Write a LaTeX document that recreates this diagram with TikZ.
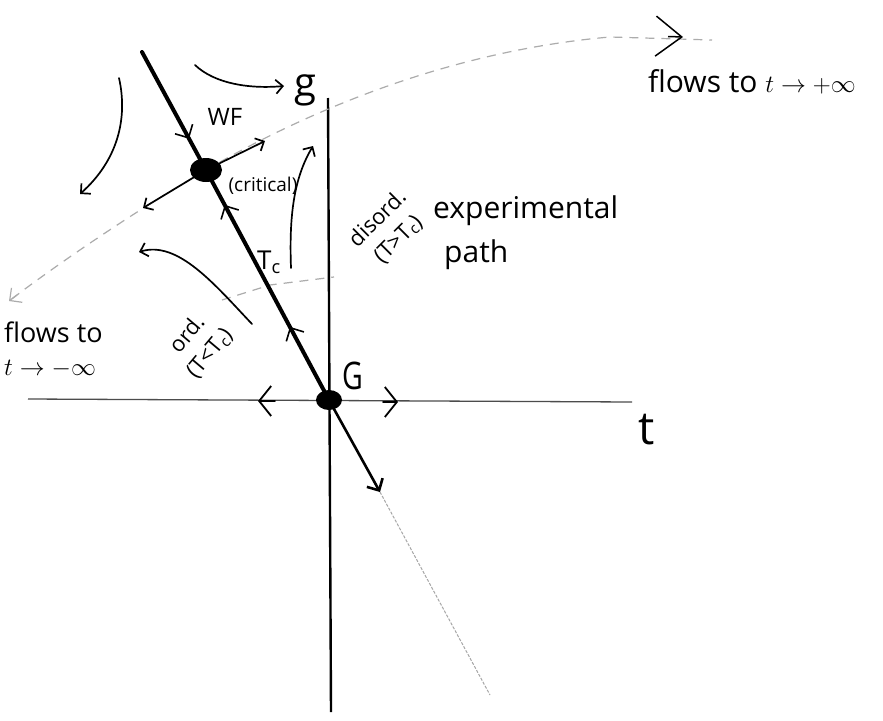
\documentclass[tikz,border=0pt]{standalone}
\usepackage{fontspec}
\setmainfont{Open Sans}
\usetikzlibrary{arrows.meta,decorations.markings,shapes.geometric,calc}
\begin{document}
\begin{tikzpicture}[x=1pt,y=-1pt,
  lab/.style={font=\fontsize{#1}{#1}\selectfont, inner sep=0pt},
  rotlab/.style={font=\fontsize{22}{29}\selectfont, inner sep=0pt, align=center},
  flow/.style={line width=1.7pt, line cap=round, -{Straight Barb[length=7pt,width=14pt]}},
  dashpath/.style={draw=gray!65, line width=1.2pt, dash pattern=on 9pt off 7pt},
  bigtip/.style={line width=1.8pt, line cap=round, -{Straight Barb[length=12pt,width=30pt]}},
  fpdot/.style={ellipse, inner sep=0pt}
]
\fill[white] (0,0) rectangle (883,720);
\useasboundingbox (0,0) rectangle (883,720);

% ---------- named points ----------
\node[fpdot, minimum width=32pt, minimum height=24pt] (WF) at (206,170) {};
\node[fpdot, minimum width=26pt, minimum height=20pt] (G) at (329,400) {};
\coordinate (gtop) at (328,98);
\coordinate (gbot) at (331,712);
\coordinate (tleft) at (28,399);
\coordinate (tright) at (632,402);
\coordinate (ctop) at (142,52);
\coordinate (cmid) at (380,492);
\coordinate (cend) at (490,695);
\coordinate (wfur) at (265,141);
\coordinate (wfdl) at (143,208);
\coordinate (mleft) at (9,301);
\coordinate (mleftpre) at (17,295);
\coordinate (mright) at (683,37);
\coordinate (mrtail) at (712,40);
\coordinate (mrpre) at (668,36.5);
\coordinate (exA) at (222,300);
\coordinate (Tc) at (270,285);
\coordinate (exB) at (334,277);
\coordinate (ta1) at (195,65);
\coordinate (ta2) at (284,86);
\coordinate (la1) at (119,78);
\coordinate (la2) at (80,194);
\coordinate (ba1) at (252,324);
\coordinate (ba2) at (139,252);
\coordinate (rc1) at (291,268);
\coordinate (rc2) at (313,146);
\coordinate (axl1) at (275,401);
\coordinate (axl2) at (258,401);
\coordinate (axr1) at (383,402);
\coordinate (axr2) at (398,402);

% ---------- axes ----------
\draw[line width=1.3pt, gray!60!black] (tleft) -- (tright);
\draw[line width=2.4pt] (gtop) -- (gbot);

% ---------- dashed flow lines ----------
\draw[dashpath] (WF.center) .. controls (140,208) and (60,262) .. (mleft);
\draw[gray!65, line width=1.2pt, -{Straight Barb[length=9pt,width=18pt]}] (mleftpre) -- (mleft);
\draw[dashpath] (WF.center) .. controls (320,104) and (460,50) .. (610,37) -- (mrtail);
\draw[line width=1.5pt, -{Straight Barb[length=26pt,width=40pt]}] (mrpre) -- (mright);
\draw[dashpath] (exA) -- (Tc) -- (exB);

% ---------- critical line ----------
\draw[line width=4pt, line cap=round, postaction={decorate},
  decoration={markings,
    mark=at position 0.25 with {\arrow[line width=1.6pt]{Straight Barb[length=10pt,width=20pt]}},
    mark=at position 0.44 with {\arrowreversed[line width=1.6pt]{Straight Barb[length=10pt,width=20pt]}},
    mark=at position 0.79 with {\arrowreversed[line width=1.6pt]{Straight Barb[length=10pt,width=20pt]}}}]
  (ctop) -- (WF.center) -- (G.center);
\draw[line width=2.6pt, -{Straight Barb[length=9pt,width=18pt]}] (G.center) -- (cmid);
\draw[gray!70, line width=1pt, dash pattern=on 3pt off 1.5pt] (cmid) -- (cend);

% fixed point dots
\fill (WF.center) ellipse [x radius=16pt, y radius=12pt];
\fill (G.center) ellipse [x radius=13pt, y radius=10pt];

% ---------- arrows from WF ----------
\draw[flow] (WF) -- (wfur);
\draw[flow] (WF) -- (wfdl);

% ---------- curved flow arrows ----------
\draw[flow] (ta1) .. controls (215,84) and (250,89) .. (ta2);
\draw[flow] (la1) .. controls (128,118) and (118,160) .. (la2);
\draw[flow] (ba1) .. controls (215,285) and (178,240) .. (ba2);
\draw[flow] (rc1) .. controls (289,215) and (294,178) .. (rc2);

% ---------- arrows on t axis ----------
\draw[bigtip] (axl1) -- (axl2);
\draw[bigtip] (axr1) -- (axr2);

% ---------- labels ----------
\node[lab=40] (glab) at (305,90) {g};
\node[lab=46] (tlab) at (647,430) {t};
\node[lab=38, xscale=0.75] (Glab) at (353,376) {G};
\node[lab=24] (WFlab) at (225,117) {WF};
\node[lab=19] (critlab) at (263,186) {(critical)};
\node[lab=26] (Tclab) at (269,262) {T\textsubscript{c}};
\node[rotlab, rotate=50] (ordlab) at (199,344) {ord.\\(T<T\textsubscript{c})};
\node[rotlab, rotate=45] (dislab) at (388,229) {disord.\\(T>T\textsubscript{c})};
\node[lab=30, anchor=base west] (explab) at (433,218) {experimental};
\node[lab=30, anchor=base west] (pathlab) at (444,262) {path};
\node[lab=30, anchor=base west] (fpos) at (648,92) {flows to $t\to+\infty$};
\node[lab=27, anchor=base west] (fneg1) at (4,342) {flows to};
\node[lab=27, anchor=base west] (fneg2) at (4,375) {$t\to-\infty$};
\end{tikzpicture}
\end{document}
